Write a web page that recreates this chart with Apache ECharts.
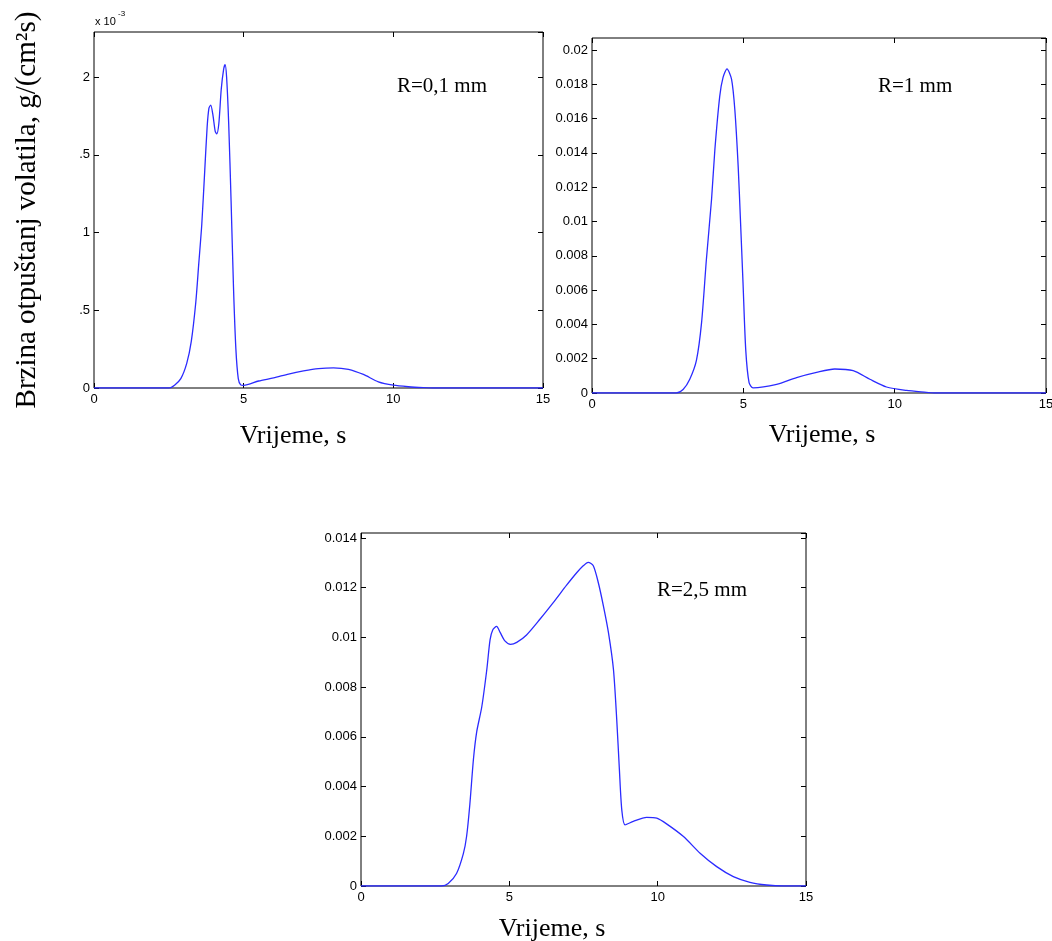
<!DOCTYPE html>
<html><head><meta charset="utf-8">
<script src="https://cdn.jsdelivr.net/npm/echarts@6/dist/echarts.min.js"></script>
<style>html,body{margin:0;padding:0;background:#fff}#c{width:1052px;height:941px}</style>
</head><body><div id="c"></div>
<script>
// ---- tick labels ----
const xTickLabels = ['0', '5', '10', '15'];
const yLabels1 = ['0', '.5', '1', '.5', '2'];            // ×10^-3 (clipped in original)
const yLabels2 = ['0', '0.002', '0.004', '0.006', '0.008', '0.01', '0.012', '0.014', '0.016', '0.018', '0.02'];
const yLabels3 = ['0', '0.002', '0.004', '0.006', '0.008', '0.01', '0.012', '0.014'];

// ---- panel 1: R=0,1 mm (values in 10^-3 g/(cm2 s)) ----
const t1 = [0, 2.5, 2.7, 2.9, 3.1, 3.25, 3.4, 3.5, 3.6, 3.7, 3.78, 3.84, 3.9, 3.97, 4.05, 4.1, 4.17, 4.25, 4.33, 4.38, 4.43, 4.5, 4.58, 4.66, 4.74, 4.82, 4.9, 5.0, 5.5, 6, 6.5, 7, 7.5, 8, 8.5, 9, 9.5, 10, 10.5, 11, 11.3, 15];
const v1 = [0, 0, 0.02, 0.06, 0.16, 0.3, 0.55, 0.8, 1.05, 1.4, 1.68, 1.8, 1.82, 1.76, 1.65, 1.635, 1.7, 1.92, 2.05, 2.08, 2.0, 1.7, 1.2, 0.65, 0.25, 0.06, 0.02, 0.017, 0.045, 0.065, 0.09, 0.11, 0.125, 0.13, 0.12, 0.087, 0.04, 0.018, 0.008, 0.002, 0, 0];

// ---- panel 2: R=1 mm ----
const t2 = [0, 2.79, 3.01, 3.23, 3.45, 3.62, 3.78, 3.95, 4.06, 4.22, 4.33, 4.46, 4.61, 4.72, 4.83, 4.9, 4.99, 5.08, 5.19, 5.32, 6.1, 6.76, 7.42, 8.02, 8.63, 9.18, 9.73, 10.39, 11.05, 11.3, 15];
const v2 = [0, 0, 0.0002, 0.0008, 0.0019, 0.0041, 0.0078, 0.0113, 0.0142, 0.0173, 0.0184, 0.0189, 0.0183, 0.0165, 0.0132, 0.0103, 0.0064, 0.0025, 0.0006, 0.0003, 0.0005, 0.0009, 0.0012, 0.0014, 0.0013, 0.0008, 0.00035, 0.00015, 0.00004, 0, 0];

// ---- panel 3: R=2,5 mm ----
const t3 = [0, 2.72, 2.94, 3.22, 3.45, 3.56, 3.67, 3.79, 3.9, 4.07, 4.24, 4.35, 4.44, 4.57, 4.69, 4.85, 5.04, 5.25, 5.58, 6.03, 6.48, 6.93, 7.27, 7.49, 7.66, 7.83, 8.0, 8.17, 8.34, 8.51, 8.62, 8.71, 8.79, 8.9, 9.18, 9.63, 9.97, 10.3, 10.87, 11.43, 11.99, 12.55, 13.11, 13.67, 14.24, 15];
const v3 = [0, 0, 0.0001, 0.0005, 0.0013, 0.002, 0.0033, 0.0051, 0.0062, 0.0072, 0.0087, 0.0099, 0.0103, 0.01044, 0.0102, 0.00986, 0.00972, 0.0098, 0.0101, 0.01073, 0.0114, 0.0121, 0.0126, 0.01288, 0.01302, 0.01288, 0.0122, 0.01127, 0.0102, 0.00871, 0.0067, 0.00468, 0.00307, 0.00246, 0.0026, 0.00276, 0.00273, 0.0025, 0.00199, 0.00132, 0.00078, 0.00038, 0.00015, 0.00004, 0, 0];

const yMax1 = 2.29, yMax2 = 0.0207, yMax3 = 0.0142;

const pairs = (t, v) => t.map((x, i) => [x, v[i]]);
const lineColor = '#2b2bff';
const labelFont = { fontFamily: 'Liberation Sans, Arial, sans-serif', fontSize: 13, color: '#000' };
const serif = 'Liberation Serif, Times New Roman, serif';
const tickStyle = { show: true, inside: true, length: 5, lineStyle: { color: '#000' } };

function xAxes(gi) {
  const base = { type: 'value', gridIndex: gi, min: 0, max: 15, interval: 5,
    splitLine: { show: false }, axisLine: { show: false, onZero: false }, axisTick: tickStyle };
  return [
    Object.assign({}, base, { position: 'bottom',
      axisLabel: Object.assign({ margin: 5, formatter: v => xTickLabels[Math.round(v / 5)] }, labelFont) }),
    Object.assign({}, base, { position: 'top', axisLabel: { show: false } })
  ];
}
function yAxes(gi, max, interval, labels) {
  const base = { type: 'value', gridIndex: gi, min: 0, max: max, interval: interval,
    splitLine: { show: false }, axisLine: { show: false, onZero: false }, axisTick: tickStyle };
  return [
    Object.assign({}, base, { position: 'left',
      axisLabel: Object.assign({ margin: 4, showMaxLabel: false,
        formatter: v => { const i = Math.round(v / interval); return Math.abs(v - i * interval) < interval * 0.01 ? (labels[i] || '') : ''; } }, labelFont) }),
    Object.assign({}, base, { position: 'right', axisLabel: { show: false } })
  ];
}

const gridBase = { show: true, borderColor: '#000', borderWidth: 1, backgroundColor: '#fff', containLabel: false, outerBoundsMode: 'none' };
const option = {
  animation: false,
  backgroundColor: '#fff',
  grid: [
    Object.assign({ left: 94, top: 32, width: 449, height: 356 }, gridBase),
    Object.assign({ left: 592, top: 38, width: 454, height: 355 }, gridBase),
    Object.assign({ left: 361, top: 533, width: 445, height: 353 }, gridBase)
  ],
  xAxis: [].concat(xAxes(0), xAxes(1), xAxes(2)),
  yAxis: [].concat(yAxes(0, yMax1, 0.5, yLabels1), yAxes(1, yMax2, 0.002, yLabels2), yAxes(2, yMax3, 0.002, yLabels3)),
  series: [
    { type: 'line', xAxisIndex: 0, yAxisIndex: 0, data: pairs(t1, v1) },
    { type: 'line', xAxisIndex: 2, yAxisIndex: 2, data: pairs(t2, v2) },
    { type: 'line', xAxisIndex: 4, yAxisIndex: 4, data: pairs(t3, v3) }
  ].map(s => Object.assign(s, { showSymbol: false, symbol: 'none', smooth: 0.25,
    lineStyle: { color: lineColor, width: 1.3 }, silent: true })),
  graphic: [
    { type: 'text', x: 27, y: 210, rotation: Math.PI / 2,
      style: { text: 'Brzina otpuštanj volatila, g/(cm²s)', font: '29px ' + serif, fill: '#000',
        align: 'center', verticalAlign: 'middle', textAlign: 'center', textVerticalAlign: 'middle' } },
    { type: 'text', x: 95, y: 27,
      style: { text: 'x 10', font: '11px Liberation Sans, Arial, sans-serif', fill: '#000',
        align: 'left', verticalAlign: 'bottom', textAlign: 'left', textVerticalAlign: 'bottom' } },
    { type: 'text', x: 118, y: 18,
      style: { text: '-3', font: '8px Liberation Sans, Arial, sans-serif', fill: '#000',
        align: 'left', verticalAlign: 'bottom', textAlign: 'left', textVerticalAlign: 'bottom' } },
    { type: 'text', x: 397, y: 86,
      style: { text: 'R=0,1 mm', font: '21px ' + serif, fill: '#000',
        align: 'left', verticalAlign: 'middle', textAlign: 'left', textVerticalAlign: 'middle' } },
    { type: 'text', x: 878, y: 86,
      style: { text: 'R=1 mm', font: '21px ' + serif, fill: '#000',
        align: 'left', verticalAlign: 'middle', textAlign: 'left', textVerticalAlign: 'middle' } },
    { type: 'text', x: 657, y: 590,
      style: { text: 'R=2,5 mm', font: '21px ' + serif, fill: '#000',
        align: 'left', verticalAlign: 'middle', textAlign: 'left', textVerticalAlign: 'middle' } },
    { type: 'text', x: 293, y: 436,
      style: { text: 'Vrijeme, s', font: '26px ' + serif, fill: '#000',
        align: 'center', verticalAlign: 'middle', textAlign: 'center', textVerticalAlign: 'middle' } },
    { type: 'text', x: 822, y: 435,
      style: { text: 'Vrijeme, s', font: '26px ' + serif, fill: '#000',
        align: 'center', verticalAlign: 'middle', textAlign: 'center', textVerticalAlign: 'middle' } },
    { type: 'text', x: 552, y: 929,
      style: { text: 'Vrijeme, s', font: '26px ' + serif, fill: '#000',
        align: 'center', verticalAlign: 'middle', textAlign: 'center', textVerticalAlign: 'middle' } }
  ]
};
const chart = echarts.init(document.getElementById('c'), null, { renderer: 'canvas' });
chart.setOption(option);
</script>
</body></html>
